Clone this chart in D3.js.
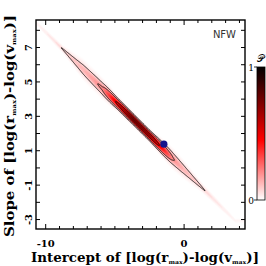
<!DOCTYPE html>
<html>
<head>
<meta charset="utf-8">
<script src="https://cdn.jsdelivr.net/npm/d3@7"></script>
<style>
  html, body { margin: 0; padding: 0; background: #fff; }
  svg { display: block; }
</style>
</head>
<body>
<div id="chart"></div>
<script>
/* Posterior of slope vs intercept, NFW model */

// ridge of the posterior (intercept -> slope centre, peak, spread)
const ridgeX = [-10.7, -8.75, -7.3, -5.9, -4.8, -3.7, -2.5, -1.5, -0.8, 0.0, 1.35, 3.7];
const ridgeY = [8.45, 6.89, 5.73, 4.61, 3.73, 2.85, 1.89, 1.09, 0.53, -0.11, -1.19, -3.07];
const ridgeP = [0.02, 0.085, 0.14, 0.22, 0.55, 0.82, 0.72, 0.42, 0.21, 0.14, 0.085, 0.02];
const ridgeW = [0.07, 0.1, 0.25, 0.24, 0.17, 0.15, 0.15, 0.2, 0.24, 0.22, 0.12, 0.07];

const contourLevels = [0.08, 0.2, 0.5];
const bestFit = [[-1.46, 1.38]];

const xTicks = d3.range(-10, 5, 1);
const xLabels = [-10, 0];
const yTicks = d3.range(-3, 9, 1);
const yLabels = [-3, -1, 1, 3, 5, 7];
const cbarTicks = [0, 1];

const W = 266, H = 266;
const frame = { left: 36, right: 245, top: 20, bottom: 229 };
const serif = "'DejaVu Serif', serif";

const svg = d3.select('#chart').append('svg')
  .attr('width', W).attr('height', H)
  .attr('viewBox', `0 0 ${W} ${H}`);

const x = d3.scaleLinear().domain([-10.7, 4.4]).range([frame.left, frame.right]);
const y = d3.scaleLinear().domain([-3.55, 8.6]).range([frame.bottom, frame.top]);

const color = d3.scaleLinear()
  .domain([0, 0.45, 1])
  .range(['#ffffff', '#ff0000', '#000000']);

// --- density grid ---
const pAt = d3.scaleLinear().domain(ridgeX).range(ridgeP).clamp(true);
const cAt = d3.scaleLinear().domain(ridgeX).range(ridgeY).clamp(true);
const wAt = d3.scaleLinear().domain(ridgeX).range(ridgeW).clamp(true);

const nx = 420, ny = 420;
const [x0, x1] = x.domain(), [y0, y1] = y.domain();
const dx = (x1 - x0) / (nx - 1), dy = (y1 - y0) / (ny - 1);
const grid = new Float64Array(nx * ny);
for (let j = 0; j < ny; j++) {
  const yy = y0 + j * dy;
  for (let i = 0; i < nx; i++) {
    const xx = x0 + i * dx;
    const s = (yy - cAt(xx)) / wAt(xx);
    grid[i + j * nx] = pAt(xx) * Math.exp(-0.5 * s * s);
  }
}

const proj = d3.geoTransform({
  point(gx, gy) {
    this.stream.point(x(x0 + (gx - 0.5) * dx), y(y0 + (gy - 0.5) * dy));
  }
});
const path = d3.geoPath(proj);

svg.append('clipPath').attr('id', 'clip')
  .append('rect')
  .attr('x', frame.left).attr('y', frame.top)
  .attr('width', frame.right - frame.left).attr('height', frame.bottom - frame.top);

const plot = svg.append('g').attr('clip-path', 'url(#clip)');

const fillLevels = [0.004, 0.008, 0.012, 0.018].concat(d3.range(0.025, 1.0, 0.02));
plot.append('g').selectAll('path')
  .data(d3.contours().size([nx, ny]).thresholds(fillLevels)(grid))
  .join('path')
  .attr('d', path)
  .attr('fill', d => color(d.value))
  .attr('stroke', 'none');

plot.append('g').selectAll('path')
  .data(d3.contours().size([nx, ny]).thresholds(contourLevels)(grid))
  .join('path')
  .attr('d', path)
  .attr('fill', 'none')
  .attr('stroke', '#111')
  .attr('stroke-width', 0.9);

// best fit point
plot.selectAll('circle.best')
  .data(bestFit)
  .join('circle')
  .attr('class', 'best')
  .attr('cx', d => x(d[0])).attr('cy', d => y(d[1]))
  .attr('r', 3.6)
  .attr('fill', '#14148c');

// --- frame and ticks ---
const axes = svg.append('g').attr('stroke', '#000');
xTicks.forEach(t => {
  const len = xLabels.includes(t) ? 5 : 3;
  axes.append('line').attr('x1', x(t)).attr('x2', x(t))
    .attr('y1', frame.bottom).attr('y2', frame.bottom - len).attr('stroke-width', 1);
  axes.append('line').attr('x1', x(t)).attr('x2', x(t))
    .attr('y1', frame.top).attr('y2', frame.top + len).attr('stroke-width', 1);
});
yTicks.forEach(t => {
  const len = 4;
  axes.append('line').attr('y1', y(t)).attr('y2', y(t))
    .attr('x1', frame.left).attr('x2', frame.left + len).attr('stroke-width', 1);
  axes.append('line').attr('y1', y(t)).attr('y2', y(t))
    .attr('x1', frame.right).attr('x2', frame.right - len).attr('stroke-width', 1);
});
svg.append('rect')
  .attr('x', frame.left).attr('y', frame.top)
  .attr('width', frame.right - frame.left).attr('height', frame.bottom - frame.top)
  .attr('fill', 'none').attr('stroke', '#000').attr('stroke-width', 1.4);

svg.append('g').selectAll('text')
  .data(xLabels)
  .join('text')
  .attr('x', d => x(d)).attr('y', 247)
  .attr('text-anchor', 'middle')
  .style('font-family', serif).style('font-weight', 'bold').style('font-size', '10px')
  .text(d => d);

svg.append('g').selectAll('text')
  .data(yLabels)
  .join('text')
  .attr('transform', d => `translate(32,${y(d)}) rotate(-90)`)
  .attr('text-anchor', 'middle')
  .style('font-family', serif).style('font-weight', 'bold').style('font-size', '10px')
  .text(d => d);

// axis titles with small "max" subscripts
function title(sel, head) {
  sel.append('tspan').text(head + ' [log(r');
  sel.append('tspan').attr('dy', 2).style('font-size', '5.5px').text('max');
  sel.append('tspan').attr('dy', -2).text(')-log(v');
  sel.append('tspan').attr('dy', 2).style('font-size', '5.5px').text('max');
  sel.append('tspan').attr('dy', -2).text(')]');
}

const xt = svg.append('text')
  .attr('x', 145).attr('y', 262)
  .attr('text-anchor', 'middle')
  .attr('textLength', 228).attr('lengthAdjust', 'spacingAndGlyphs')
  .style('font-family', serif).style('font-weight', 'bold').style('font-size', '12px');
title(xt, 'Intercept of');

const yt = svg.append('text')
  .attr('transform', 'translate(14,126) rotate(-90)')
  .attr('text-anchor', 'middle')
  .attr('textLength', 222).attr('lengthAdjust', 'spacingAndGlyphs')
  .style('font-family', serif).style('font-weight', 'bold').style('font-size', '12px');
title(yt, 'Slope of');

svg.append('text')
  .attr('x', 236).attr('y', 38)
  .attr('text-anchor', 'end')
  .attr('fill', '#333')
  .style('font-family', "'DejaVu Sans', sans-serif").style('font-size', '10px')
  .text('NFW');

// --- colour bar ---
const cb = { x: 257, w: 8, top: 67, bottom: 200 };
const cy = d3.scaleLinear().domain([0, 1]).range([cb.bottom, cb.top]);
const grad = svg.append('defs').append('linearGradient')
  .attr('id', 'cbar').attr('x1', 0).attr('y1', 1).attr('x2', 0).attr('y2', 0);
grad.selectAll('stop')
  .data(d3.range(0, 1.001, 0.05))
  .join('stop')
  .attr('offset', d => d)
  .attr('stop-color', d => color(d));
svg.append('rect')
  .attr('x', cb.x).attr('y', cb.top)
  .attr('width', cb.w).attr('height', cb.bottom - cb.top)
  .attr('fill', 'url(#cbar)')
  .attr('stroke', '#000').attr('stroke-width', 0.8);
cbarTicks.forEach(t => {
  svg.append('line')
    .attr('x1', cb.x - 3).attr('x2', cb.x)
    .attr('y1', cy(t)).attr('y2', cy(t))
    .attr('stroke', '#000').attr('stroke-width', 0.8);
  svg.append('text')
    .attr('x', cb.x - 3).attr('y', cy(t) + 3.5)
    .attr('text-anchor', 'end')
    .style('font-family', serif).style('font-size', '9px')
    .text(t);
});
svg.append('text')
  .attr('x', 257).attr('y', 62)
  .style('font-family', "'DejaVu Serif', 'DejaVu Sans', serif").style('font-size', '10px')
  .text('𝒫');
</script>
</body>
</html>
